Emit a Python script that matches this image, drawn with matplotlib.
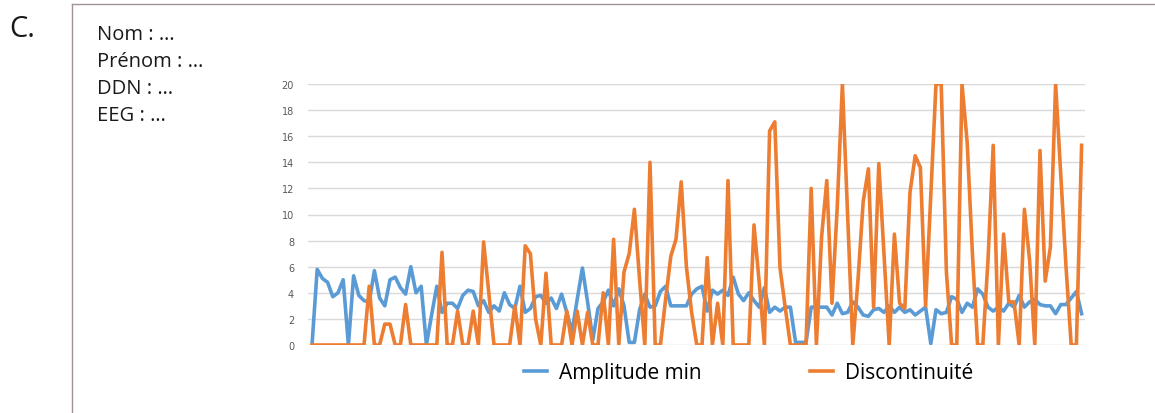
import numpy as np
import matplotlib
matplotlib.use("Agg")
import matplotlib.pyplot as plt
from matplotlib.lines import Line2D

plt.rcParams["font.family"] = ["Open Sans", "DejaVu Sans"]

# ---------------------------------------------------------------------------
# Data (one value per recording step, 149 steps)
# ---------------------------------------------------------------------------
amplitude_min = [
    0, 5.8, 5.1, 4.8, 3.7, 4.0, 5.0, 0, 5.3, 3.8,
    3.4, 3.3, 5.7, 3.6, 3.0, 5.0, 5.2, 4.4, 3.9, 6.0,
    4.0, 4.5, 0, 2.3, 4.5, 2.5, 3.2, 3.2, 2.8, 3.8,
    4.2, 4.1, 3.0, 3.4, 2.5, 3.0, 2.6, 4.0, 3.1, 2.8,
    4.5, 2.5, 2.8, 3.7, 3.8, 3.2, 3.6, 2.8, 3.9, 2.5,
    1.0, 3.5, 5.9, 3.3, 0.4, 2.8, 3.3, 4.2, 3.0, 4.3,
    3.0, 0.2, 0.2, 2.7, 3.9, 2.9, 3.0, 4.1, 4.5, 3.0,
    3.0, 3.0, 3.0, 3.9, 4.3, 4.5, 2.6, 4.2, 3.9, 4.2,
    3.8, 5.2, 3.9, 3.4, 4.0, 3.4, 2.9, 4.4, 2.5, 2.9,
    2.6, 2.9, 2.9, 0.2, 0.2, 0.2, 2.9, 2.9, 2.9, 2.9,
    2.3, 3.2, 2.4, 2.5, 3.3, 2.9, 2.3, 2.2, 2.7, 2.8,
    2.5, 3.0, 2.5, 2.9, 2.5, 2.7, 2.3, 2.6, 2.9, 0.1,
    2.7, 2.4, 2.5, 3.7, 3.5, 2.5, 3.2, 2.9, 4.3, 3.9,
    2.9, 2.6, 2.9, 2.6, 3.2, 2.9, 3.8, 2.9, 3.3, 3.5,
    3.1, 3.0, 3.0, 2.4, 3.1, 3.1, 3.6, 4.1, 2.4,
]
discontinuite = [
    0, 0, 0, 0, 0, 0, 0, 0, 0, 0,
    0, 4.5, 0, 0, 1.6, 1.6, 0, 0, 3.1, 0,
    0, 0, 0, 0, 0, 7.1, 0, 0, 2.6, 0,
    0, 2.6, 0, 7.9, 4.0, 0, 0, 0, 0, 3.0,
    0, 7.6, 7.0, 2.0, 0, 5.5, 0, 0, 0, 2.6,
    0, 2.6, 0, 2.5, 0, 0, 4.0, 0, 8.1, 0,
    5.6, 7.0, 10.4, 5.0, 0, 14.0, 0, 0, 3.5, 6.8,
    8.1, 12.5, 6.0, 2.5, 0, 0, 6.7, 0, 3.2, 0,
    12.6, 0, 0, 0, 0, 9.2, 4.8, 0, 16.4, 17.1,
    5.9, 2.9, 0, 0, 0, 0, 12.0, 0, 8.3, 12.6,
    3.2, 10.5, 20, 10.0, 0, 5.0, 11.0, 13.5, 2.9, 13.9,
    7.0, 0, 8.5, 3.2, 2.8, 11.7, 14.5, 13.6, 3.0, 11.5,
    20, 20, 5.6, 0, 0, 20, 15.5, 7.0, 0, 0,
    6.5, 15.3, 0, 8.5, 3.3, 3.3, 0, 10.4, 6.5, 0,
    14.9, 4.9, 7.5, 20, 13.0, 6.0, 0, 0, 15.3,
]
series_names = ["Amplitude min", "Discontinuité"]
y_ticks = list(range(0, 21, 2))
header_lines = ["Nom : …", "Prénom : …", "DDN : …", "EEG : …"]
panel_label = "C."

BLUE = "#5b9bd5"
ORANGE = "#ed7d31"

# ---------------------------------------------------------------------------
# Figure
# ---------------------------------------------------------------------------
W, H = 1155, 414
fig = plt.figure(figsize=(W / 100, H / 100), dpi=100)
fig.patch.set_facecolor("white")


def fx(px):
    return px / W


def fy(py):
    return 1 - py / H


# frame (top + left border of the card)
border = "#a3909a"
fig.add_artist(Line2D([fx(72), 1.0], [fy(5), fy(5)], color=border, lw=1.0))
fig.add_artist(Line2D([fx(72), fx(72)], [fy(5), 0.0], color=border, lw=1.0))

fig.text(fx(9), fy(37), panel_label, fontsize=21, color="#1a1a1a",
         ha="left", va="baseline")
for k, line in enumerate(header_lines):
    fig.text(fx(97), fy(40 + 27 * k), line, fontsize=14.5, color="#1a1a1a",
             ha="left", va="baseline")

# --- chart ---
ax = fig.add_axes([fx(308), fy(346), fx(1085) - fx(308), fy(85) - fy(346)])
x = np.arange(len(amplitude_min))
ax.plot(x, amplitude_min, color=BLUE, lw=2.6, solid_joinstyle="round",
        label=series_names[0])
ax.plot(x, discontinuite, color=ORANGE, lw=2.6, solid_joinstyle="round",
        label=series_names[1])

step = (1081.6 - 312) / (len(x) - 1)
ax.set_xlim(-(312 - 308) / step, (len(x) - 1) + (1085 - 1081.6) / step)
ax.set_ylim(0, 20)
ax.set_yticks(y_ticks)
ax.set_xticks([])
ax.tick_params(axis="y", length=0, pad=10, labelsize=7, labelcolor="#595959")
ax.yaxis.grid(True, color="#d9d9d9", lw=1.0)
ax.set_axisbelow(True)
for s in ax.spines.values():
    s.set_visible(False)
for lab in ax.get_yticklabels():
    lab.set_fontfamily("DejaVu Sans")

handles = [Line2D([], [], color=BLUE, lw=2.6), Line2D([], [], color=ORANGE, lw=2.6)]
fig.legend(handles, series_names, loc="center", bbox_to_anchor=(fx(749), fy(374)),
           ncol=2, frameon=False, fontsize=15, handlelength=1.1,
           handletextpad=0.58, columnspacing=5.2)

fig.savefig("out.png", dpi=100)
